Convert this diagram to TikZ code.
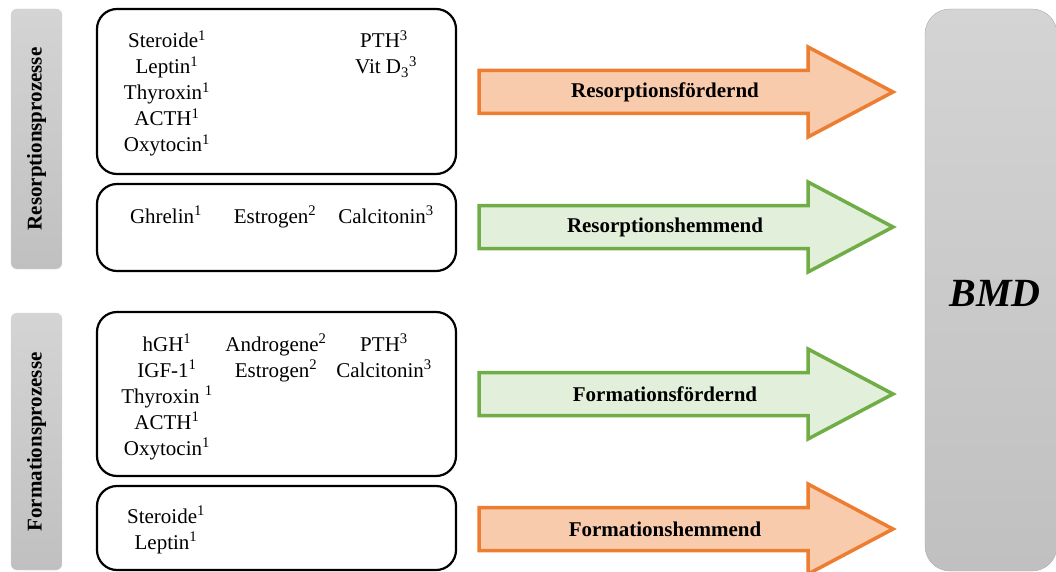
\documentclass[tikz,border=0pt]{standalone}
\usepackage{fontspec}
\setmainfont{Liberation Serif}
\definecolor{orangerand}{HTML}{ED7D31}
\definecolor{orangefill}{HTML}{F8CBAD}
\definecolor{gruenrand}{HTML}{70AD47}
\definecolor{gruenfill}{HTML}{E2EFDA}
\definecolor{grauhell}{HTML}{D4D4D4}
\definecolor{graudunkel}{HTML}{C0C0C0}
\begin{document}
\begin{tikzpicture}[x=1pt,y=-1pt,
	kasten/.style={draw,line width=2.2pt,rounded corners=20pt},
	balken/.style={draw=grauhell,rounded corners=6pt,top color=grauhell,bottom color=graudunkel},
	txt/.style={font=\fontsize{21}{26}\selectfont,anchor=base,inner sep=0pt},
	titel/.style={font=\fontsize{21}{26}\selectfont\bfseries,rotate=90},
	pfeiltxt/.style={font=\fontsize{21}{26}\selectfont\bfseries}]
\def\pfeil#1#2#3#4#5{
	\filldraw[draw=#3,fill=#4,line width=3.5pt] (479,#2-21.5) -- (808,#2-21.5) -- (808,#2-45)
		-- (893,#2) -- (808,#2+45) -- (808,#2+21.5) -- (479,#2+21.5) -- cycle;
	\node[pfeiltxt] (#1) at (665,#2) {#5};
}
\useasboundingbox (0,0) rectangle (1056,572);
% linke Balken
\draw[balken] (11,9) rectangle (62,269);
\node[titel] (resorp) at (36.5,139) {Resorptionsprozesse};
\draw[balken] (11,313) rectangle (62,570);
\node[titel] (format) at (36.5,442) {Formationsprozesse};
% Kaesten
\draw[kasten] (97,9) rectangle (456,174);
\draw[kasten] (97,184) rectangle (456,271);
\draw[kasten] (97,312) rectangle (456,476);
\draw[kasten] (97,486) rectangle (456,570);
% Resorption
\foreach \t [count=\i from 0] in {Steroide\textsuperscript{1},Leptin\textsuperscript{1},Thyroxin\textsuperscript{1},ACTH\textsuperscript{1},Oxytocin\textsuperscript{1}}
	\node[txt] (ra\i) at (167,48+26*\i) {\t};
\node[txt] (rb0) at (384,48) {PTH\textsuperscript{3}};
\node[txt] (rb1) at (386,74) {Vit D\textsubscript{3}\textsuperscript{3}};
\node[txt] (rc0) at (166,223) {Ghrelin\textsuperscript{1}};
\node[txt] (rc1) at (275,223) {Estrogen\textsuperscript{2}};
\node[txt] (rc2) at (386,223) {Calcitonin\textsuperscript{3}};
% Formation
\foreach \t [count=\i from 0] in {hGH\textsuperscript{1},IGF-1\textsuperscript{1},Thyroxin \textsuperscript{1},ACTH\textsuperscript{1},Oxytocin\textsuperscript{1}}
	\node[txt] (fa\i) at (167,351+26*\i) {\t};
\node[txt] (fb0) at (276,351) {Androgene\textsuperscript{2}};
\node[txt] (fb1) at (276,377) {Estrogen\textsuperscript{2}};
\node[txt] (fc0) at (384,351) {PTH\textsuperscript{3}};
\node[txt] (fc1) at (384,377) {Calcitonin\textsuperscript{3}};
\node[txt] (fd0) at (166,523) {Steroide\textsuperscript{1}};
\node[txt] (fd1) at (166,549) {Leptin\textsuperscript{1}};
% Pfeile
\pfeil{rf}{92}{orangerand}{orangefill}{Resorptionsfördernd}
\pfeil{rh}{227}{gruenrand}{gruenfill}{Resorptionshemmend}
\pfeil{ff}{394}{gruenrand}{gruenfill}{Formationsfördernd}
\pfeil{fh}{529}{orangerand}{orangefill}{Formationshemmend}
% BMD
\draw[draw=grauhell!80!black,top color=grauhell,bottom color=graudunkel,rounded corners=25pt] (925,9) rectangle (1057,571);
\node[font=\fontsize{40}{48}\selectfont\bfseries\itshape] (bmd) at (995,293) {BMD};
\end{tikzpicture}
\end{document}
